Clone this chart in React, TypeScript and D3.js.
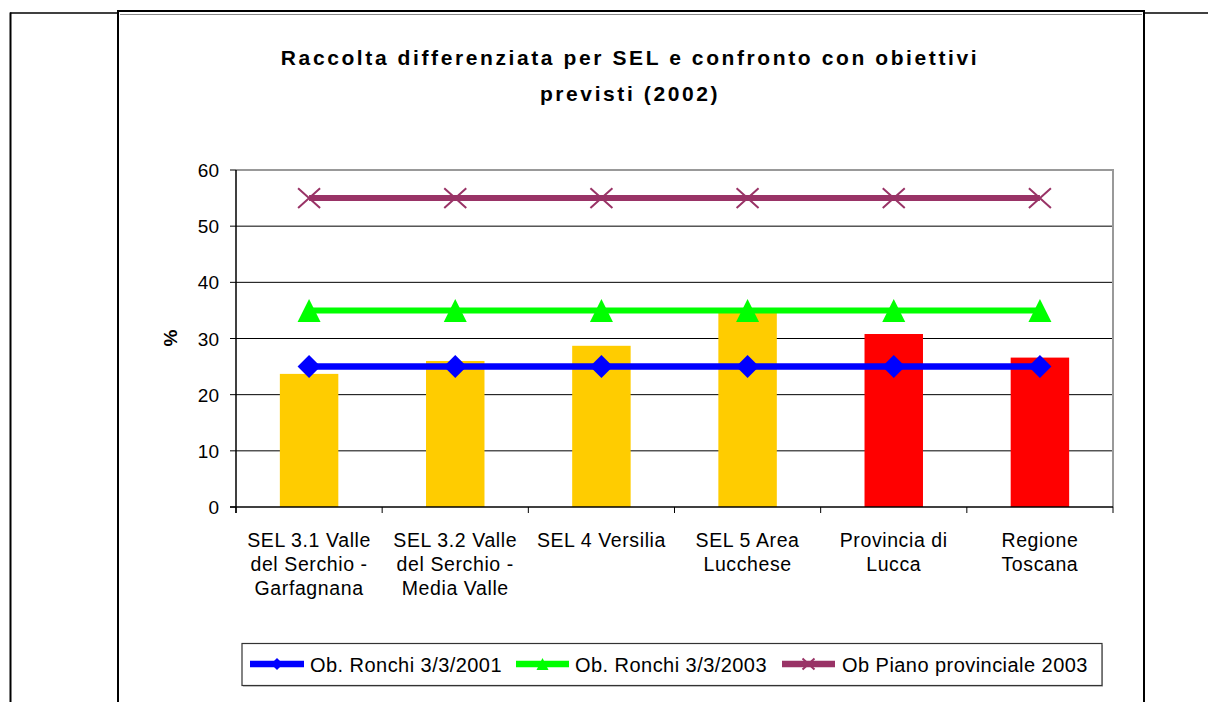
import React from "react";
import * as d3 from "d3";

const categories: string[][] = [
  ["SEL 3.1 Valle", "del Serchio -", "Garfagnana"],
  ["SEL 3.2 Valle", "del Serchio -", "Media Valle"],
  ["SEL 4 Versilia"],
  ["SEL 5 Area", "Lucchese"],
  ["Provincia di", "Lucca"],
  ["Regione", "Toscana"],
];
const barValues: number[] = [23.7, 26.0, 28.7, 34.6, 30.8, 26.6];
const barColors: string[] = ["#FFCC00", "#FFCC00", "#FFCC00", "#FFCC00", "#FF0000", "#FF0000"];
const ronchi2001: number[] = [25, 25, 25, 25, 25, 25];
const ronchi2003: number[] = [35, 35, 35, 35, 35, 35];
const pianoProv2003: number[] = [55, 55, 55, 55, 55, 55];
const yTicks: number[] = [0, 10, 20, 30, 40, 50, 60];
const titleLines: string[] = ["Raccolta differenziata per SEL e confronto con obiettivi", "previsti (2002)"];
const seriesNames: string[] = ["Ob. Ronchi 3/3/2001", "Ob. Ronchi 3/3/2003", "Ob Piano provinciale 2003"];

const FONT = "'Liberation Sans', Arial, sans-serif";

type Marker = "diamond" | "triangle" | "x";

function MarkerShape({ type, x, y, size, color }: { type: Marker; x: number; y: number; size: number; color: string }) {
  const h = size / 2;
  if (type === "diamond") {
    return <path d={`M${x},${y - h}L${x + h},${y}L${x},${y + h}L${x - h},${y}Z`} fill={color} />;
  }
  if (type === "triangle") {
    return <path d={`M${x},${y - h}L${x + h},${y + h}L${x - h},${y + h}Z`} fill={color} />;
  }
  const hh = h * 0.9;
  return (
    <path d={`M${x - h},${y - hh}L${x + h},${y + hh}M${x - h},${y + hh}L${x + h},${y - hh}`} stroke={color} strokeWidth={2} fill="none" />
  );
}

export default function App() {
  const W = 1208;
  const H = 702;
  const left = 236, right = 1113, top = 170, bottom = 507;

  const x = d3.scaleBand<number>().domain(d3.range(categories.length)).range([left, right]).padding(0);
  const y = d3.scaleLinear().domain([0, 60]).range([bottom, top]);
  const bw = x.bandwidth();
  const barW = bw * 0.4;
  const cx = (i: number) => (x(i) as number) + bw / 2;

  const line = d3.line<number>().x((_, i) => cx(i)).y((d) => y(d));

  const series = [
    { name: seriesNames[0], values: ronchi2001, color: "#0000FF", marker: "diamond" as Marker, msize: 23, lw: 6.5 },
    { name: seriesNames[1], values: ronchi2003, color: "#00FF00", marker: "triangle" as Marker, msize: 23, lw: 6 },
    { name: seriesNames[2], values: pianoProv2003, color: "#993366", marker: "x" as Marker, msize: 22, lw: 6 },
  ];

  const legendItems = [
    { x0: 250, x1: 304, tx: 310 },
    { x0: 516, x1: 569, tx: 575 },
    { x0: 782, x1: 835, tx: 842 },
  ];
  const legendY = 664;

  return (
    <svg width={W} height={H} style={{ position: "absolute", left: 0, top: 0, background: "#fff" }} fontFamily={FONT}>
      {/* table frame */}
      <line x1={10} y1={13} x2={118} y2={13} stroke="#000" strokeWidth={1.5} />
      <line x1={10.5} y1={12.5} x2={10.5} y2={H} stroke="#000" strokeWidth={2} />
      <line x1={1144} y1={13} x2={W} y2={13} stroke="#000" strokeWidth={1.5} />
      <line x1={118} y1={11} x2={1145} y2={11} stroke="#000" strokeWidth={2} />
      <line x1={118} y1={10} x2={118} y2={H} stroke="#000" strokeWidth={2} />
      <line x1={1144} y1={10} x2={1144} y2={H} stroke="#000" strokeWidth={2} />
      <line x1={120} y1={14.5} x2={1142} y2={14.5} stroke="#888" strokeWidth={1} />

      {/* title */}
      <text x={630} textAnchor="middle" fontWeight="bold" fontSize={21} letterSpacing={2.6} fill="#000">
        <tspan x={630} y={65}>{titleLines[0]}</tspan>
        <tspan x={630} y={101}>{titleLines[1]}</tspan>
      </text>

      {/* gridlines */}
      {yTicks.filter((t) => t > 0 && t < 60).map((t) => (
        <line key={t} x1={left} x2={right} y1={y(t)} y2={y(t)} stroke="#000" strokeWidth={1} />
      ))}
      {/* plot area border top/right */}
      <line x1={left} x2={right} y1={top} y2={top} stroke="#999" strokeWidth={2} />
      <line x1={right} x2={right} y1={top - 1} y2={bottom} stroke="#999" strokeWidth={2} />

      {/* bars */}
      {barValues.map((v, i) => (
        <rect key={i} x={cx(i) - barW / 2} y={y(v)} width={barW} height={bottom - y(v)} fill={barColors[i]} />
      ))}

      {/* axes */}
      <line x1={left} x2={left} y1={top} y2={bottom + 6} stroke="#000" strokeWidth={1.5} />
      <line x1={left - 6} x2={right} y1={bottom} y2={bottom} stroke="#000" strokeWidth={1.5} />
      {yTicks.map((t) => (
        <g key={t}>
          <line x1={left - 6} x2={left} y1={y(t)} y2={y(t)} stroke="#000" strokeWidth={1} />
          <text x={219} y={y(t) + 7} textAnchor="end" fontSize={19} fill="#000">{t}</text>
        </g>
      ))}
      {d3.range(categories.length + 1).map((i) => {
        const xx = left + i * bw;
        return <line key={i} x1={xx} x2={xx} y1={bottom} y2={bottom + 6} stroke="#000" strokeWidth={1} />;
      })}
      {categories.map((lines, i) => (
        <text key={i} textAnchor="middle" fontSize={19.5} letterSpacing={0.6} fill="#000">
          {lines.map((l, j) => (
            <tspan key={j} x={cx(i)} y={547 + j * 24}>{l}</tspan>
          ))}
        </text>
      ))}
      <text transform={`translate(177,338) rotate(-90)`} textAnchor="middle" fontWeight="bold" fontSize={19} fill="#000">%</text>

      {/* lines */}
      {series.map((s) => (
        <g key={s.name}>
          <path d={line(s.values) || ""} fill="none" stroke={s.color} strokeWidth={s.lw} />
          {s.values.map((v, i) => (
            <MarkerShape key={i} type={s.marker} x={cx(i)} y={y(v)} size={s.msize} color={s.color} />
          ))}
        </g>
      ))}

      {/* legend */}
      <rect x={243} y={645} width={860} height={42} fill="#ccc" />
      <rect x={242} y={643.5} width={860} height={42} fill="#fff" stroke="#333" strokeWidth={1.2} />
      {series.map((s, k) => {
        const it = legendItems[k];
        return (
          <g key={s.name}>
            <line x1={it.x0} x2={it.x1} y1={legendY} y2={legendY} stroke={s.color} strokeWidth={6.5} />
            <MarkerShape type={s.marker} x={(it.x0 + it.x1) / 2} y={legendY} size={12} color={s.color} />
            <text x={it.tx} y={legendY + 7.5} fontSize={20} letterSpacing={0.45} fill="#000">{s.name}</text>
          </g>
        );
      })}
    </svg>
  );
}
